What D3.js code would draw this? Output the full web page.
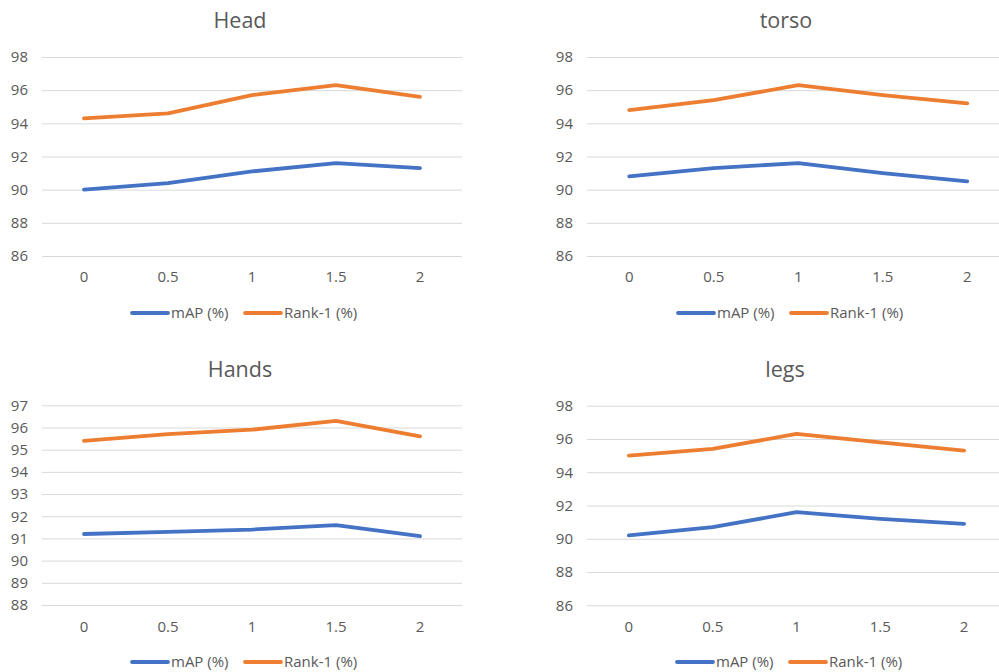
<!DOCTYPE html>
<html>
<head>
<meta charset="utf-8">
<script src="https://cdn.jsdelivr.net/npm/d3@7"></script>
<style>
  html, body { margin: 0; padding: 0; background: #fff; }
  svg { display: block; font-family: "Open Sans", "Noto Sans", sans-serif; }
</style>
</head>
<body>
<svg id="chart" width="999" height="672"></svg>
<script>
// ---------- data ----------
const categories = ["0", "0.5", "1", "1.5", "2"];
const seriesNames = ["mAP (%)", "Rank-1 (%)"];
const titles = ["Head", "torso", "Hands", "legs"];

const headMAP   = [90.0, 90.4, 91.1, 91.6, 91.3];
const headRank  = [94.3, 94.6, 95.7, 96.3, 95.6];
const torsoMAP  = [90.8, 91.3, 91.6, 91.0, 90.5];
const torsoRank = [94.8, 95.4, 96.3, 95.7, 95.2];
const handsMAP  = [91.2, 91.3, 91.4, 91.6, 91.1];
const handsRank = [95.4, 95.7, 95.9, 96.3, 95.6];
const legsMAP   = [90.2, 90.7, 91.6, 91.2, 90.9];
const legsRank  = [95.0, 95.4, 96.3, 95.8, 95.3];

const ticksEven  = [86, 88, 90, 92, 94, 96, 98];
const ticksHands = [88, 89, 90, 91, 92, 93, 94, 95, 96, 97];

// ---------- styles / layout ----------
const colors = ["#4472C4", "#ED7D31"];
const textColor = "#595959";
const gridColor = "#D9D9D9";

const panels = [
  { title: titles[0], series: [headMAP, headRank],   ticks: ticksEven,
    x0: 42,  x1: 462,    yTop: 57,    yBot: 256,   titleX: 240, titleY: 28,
    xLabelY: 282, legendY: 313, legendX: 132 },
  { title: titles[1], series: [torsoMAP, torsoRank], ticks: ticksEven,
    x0: 587, x1: 1009.5, yTop: 57,    yBot: 256,   titleX: 786, titleY: 28,
    xLabelY: 282, legendY: 313, legendX: 678 },
  { title: titles[2], series: [handsMAP, handsRank], ticks: ticksHands,
    x0: 42,  x1: 462,    yTop: 405.3, yBot: 605,   titleX: 240, titleY: 377,
    xLabelY: 632, legendY: 662, legendX: 132 },
  { title: titles[3], series: [legsMAP, legsRank],   ticks: ticksEven,
    x0: 587, x1: 1006,   yTop: 405.7, yBot: 605.3, titleX: 785, titleY: 377,
    xLabelY: 632, legendY: 662, legendX: 677 }
];

const svg = d3.select("#chart");

panels.forEach(p => {
  const g = svg.append("g");
  const x = d3.scaleBand().domain(categories).range([p.x0, p.x1]);
  const y = d3.scaleLinear()
    .domain([d3.min(p.ticks), d3.max(p.ticks)])
    .range([p.yBot, p.yTop]);

  // title
  g.append("text")
    .attr("x", p.titleX).attr("y", p.titleY)
    .attr("text-anchor", "middle")
    .attr("font-size", 21.5)
    .attr("fill", textColor)
    .text(p.title);

  // y axis (gridlines + labels)
  const yAxis = d3.axisLeft(y).tickValues(p.ticks)
    .tickSize(-(p.x1 - p.x0)).tickPadding(14).tickFormat(d3.format("d"));
  const ya = g.append("g").attr("transform", `translate(${p.x0},0)`).call(yAxis);
  ya.select(".domain").remove();
  ya.selectAll(".tick line").attr("stroke", gridColor).attr("stroke-width", 1);
  ya.selectAll(".tick text").attr("fill", textColor)
    .attr("font-size", 15).attr("font-family", "Open Sans, sans-serif");

  // x axis labels
  const xAxis = d3.axisBottom(x).tickSize(0).tickPadding(0);
  const xa = g.append("g").attr("transform", `translate(0,${p.xLabelY})`).call(xAxis);
  xa.select(".domain").remove();
  xa.selectAll(".tick text").attr("fill", textColor)
    .attr("font-size", 15).attr("font-family", "Open Sans, sans-serif")
    .attr("dy", 0).attr("y", 0);

  // lines
  const line = d3.line()
    .x((d, i) => x(categories[i]) + x.bandwidth() / 2)
    .y(d => y(d));
  p.series.forEach((s, si) => {
    g.append("path")
      .datum(s)
      .attr("d", line)
      .attr("fill", "none")
      .attr("stroke", colors[si])
      .attr("stroke-width", 3.8)
      .attr("stroke-linejoin", "round")
      .attr("stroke-linecap", "round");
  });

  // legend
  const lg = g.append("g").attr("transform", `translate(${p.legendX},${p.legendY})`);
  const offsets = [0, 113];
  seriesNames.forEach((name, i) => {
    const item = lg.append("g").attr("transform", `translate(${offsets[i]},0)`);
    item.append("line")
      .attr("x1", 0).attr("x2", 36).attr("y1", 0).attr("y2", 0)
      .attr("stroke", colors[i]).attr("stroke-width", 3.8)
      .attr("stroke-linecap", "round");
    item.append("text")
      .attr("x", 39).attr("y", 5)
      .attr("font-size", 15)
      .attr("fill", textColor)
      .text(name);
  });
});
</script>
</body>
</html>
